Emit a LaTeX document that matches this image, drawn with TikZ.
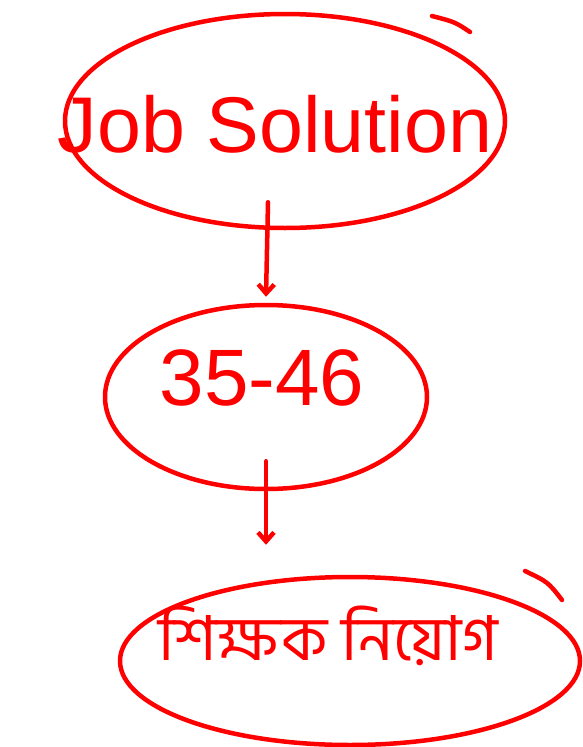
\documentclass[tikz,border=0pt]{standalone}
\usepackage{fontspec}
\setmainfont{Liberation Sans}
\newfontfamily\bengalifont[Script=Bengali]{Hind Siliguri}
\usetikzlibrary{shapes.geometric, arrows.meta}

\tikzset{
  pen/.style={draw=red, line width=4.5pt, line cap=round, line join=round},
  bubble/.style={pen, ellipse, inner sep=0pt},
  arrow/.style={pen, -{Straight Barb[length=9pt, width=16pt]}}
}

\begin{document}
\begin{tikzpicture}[x=1pt, y=-1pt]
  \useasboundingbox (0,0) rectangle (583,747);

  % The top bubble
  \node[bubble, minimum width=440, minimum height=214] (job) at (285,121) {};
  \node[text=red, font=\fontsize{79}{90}\selectfont]
    (jobname) at (275,124) {Job Solution};
  \draw[pen] (432,16) .. controls (455,22) .. (470,32);

  % The middle bubble
  \node[bubble, minimum width=322, minimum height=184] (range) at (266,397) {};
  \node[text=red, font=\fontsize{80}{90}\selectfont]
    (rangename) at (262,378) {35-46};

  % The bottom bubble
  \node[bubble, minimum width=460, minimum height=168] (post) at (350,661) {};
  \node[text=red, font=\bengalifont\fontsize{62}{72}\selectfont]
    (postname) at (328,636) {শিক্ষক নিয়োগ};
  \draw[pen] (525,571) .. controls (548,582) .. (562,600);

  % The arrows
  \draw[arrow] ([xshift=-17pt, yshift=28pt]job.south) -- ([yshift=6pt]range.north);
  \draw[arrow] ([yshift=30pt]range.south) -- ([yshift=30pt]range.south |- post.north);

\end{tikzpicture}
\end{document}
